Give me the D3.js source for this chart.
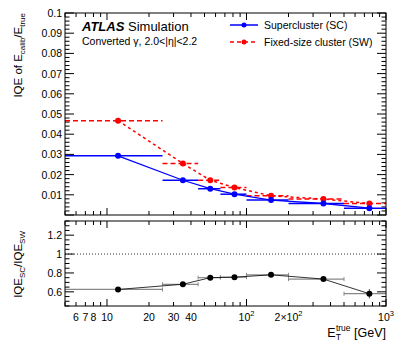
<!DOCTYPE html>
<html>
<head>
  <meta charset="utf-8">
  <title>IQE Supercluster vs Fixed-size</title>
  <script src="https://d3js.org/d3.v7.min.js"></script>
  <style>
    body { margin: 0; background: #fff; }
    text { font-family: "Liberation Sans", Arial, sans-serif; fill: #000; }
  </style>
</head>
<body>
  <script>
    // Bin edges and centres in E_T^true [GeV]
    const binEdges = [5, 25, 45, 65, 100, 200, 500, 1000];
    const binCenters = [12, 35, 55, 82, 150, 356, 760];

    // IQE of E_calib/E_true
    const iqeSC = [0.0293, 0.0172, 0.0130, 0.0103, 0.0074, 0.0057, 0.0034];
    const iqeSW = [0.0467, 0.0255, 0.0172, 0.0136, 0.0095, 0.0079, 0.0057];

    // ratio SC/SW and its vertical error
    const ratio = [0.625, 0.68, 0.75, 0.755, 0.78, 0.735, 0.58];
    const ratioErr = [0.008, 0.01, 0.012, 0.01, 0.01, 0.012, 0.05];

    const xTickLabels = [6, 7, 8, 10, 20, 30, 40, 100, 200, 1000];
    const mainYTicks = [0.01, 0.02, 0.03, 0.04, 0.05, 0.06, 0.07, 0.08, 0.09, 0.1];
    const ratioYTicks = [0.6, 0.8, 1, 1.2];

    const W = 407, H = 344;
    const left = 65, right = 386;
    const mainTop = 13, mainBottom = 215;
    const ratioTop = 221, ratioBottom = 306;

    const svg = d3.select("body").append("svg")
        .attr("width", W).attr("height", H);

    const x = d3.scaleLog().domain([5, 1000]).range([left, right]);
    const y = d3.scaleLinear().domain([0, 0.1]).range([mainBottom, mainTop]);
    const yr = d3.scaleLinear().domain([0.45, 1.35]).range([ratioBottom, ratioTop]);

    const blue = "#0000ff", red = "#ff0000";

    // x minor/major ticks (log)
    const xTicks = [];
    for (let dec = 1; dec <= 1000; dec *= 10) {
      for (let k = 1; k < 10; k++) {
        const v = k * dec;
        if (v >= 5 && v <= 1000) xTicks.push({ v: v, major: k === 1 });
      }
    }

    function drawXTicks(yPos, dir) {
      svg.append("g").selectAll("line")
        .data(xTicks)
        .join("line")
        .attr("x1", d => x(d.v)).attr("x2", d => x(d.v))
        .attr("y1", yPos)
        .attr("y2", d => yPos + dir * (d.major ? 7 : 4))
        .attr("stroke", "#000").attr("stroke-width", 1);
    }

    function drawYTicks(scale, lo, hi, majorStep, minorStep, len) {
      const ticks = [];
      const n = Math.round((hi - lo) / minorStep);
      for (let i = 0; i <= n; i++) {
        const v = lo + i * minorStep;
        const r = v / majorStep;
        ticks.push({ v: v, major: Math.abs(r - Math.round(r)) < 1e-6 });
      }
      const g = svg.append("g");
      [[left, 1], [right, -1]].forEach(([xp, dir]) => {
        g.append("g").selectAll("line")
          .data(ticks)
          .join("line")
          .attr("x1", xp)
          .attr("x2", d => xp + dir * (d.major ? len : len / 2))
          .attr("y1", d => scale(d.v)).attr("y2", d => scale(d.v))
          .attr("stroke", "#000").attr("stroke-width", 1);
      });
    }

    // ---------- main panel ----------
    drawYTicks(y, 0, 0.1, 0.01, 0.002, 9);
    drawXTicks(mainBottom, -1);
    drawXTicks(mainTop, 1);

    svg.append("g").selectAll("text")
      .data(mainYTicks)
      .join("text")
      .attr("x", left - 3)
      .attr("y", d => y(d) + 4)
      .attr("text-anchor", "end")
      .attr("font-size", 10.5)
      .text(d => d3.format("~g")(d));

    const swData = iqeSW.map((v, i) => ({ x: binCenters[i], y: v, lo: binEdges[i], hi: binEdges[i + 1] }));
    const scData = iqeSC.map((v, i) => ({ x: binCenters[i], y: v, lo: binEdges[i], hi: binEdges[i + 1] }));

    const line = d3.line().x(d => x(d.x)).y(d => y(d.y));

    // SW (red dashed)
    svg.append("g").selectAll("line")
      .data(swData)
      .join("line")
      .attr("x1", d => x(d.lo)).attr("x2", d => x(d.hi))
      .attr("y1", d => y(d.y)).attr("y2", d => y(d.y))
      .attr("stroke", red).attr("stroke-width", 1.5)
      .attr("stroke-dasharray", "5,3");

    svg.append("path")
      .datum(swData)
      .attr("d", line)
      .attr("fill", "none")
      .attr("stroke", red).attr("stroke-width", 1.5)
      .attr("stroke-dasharray", "3,3");

    svg.append("g").selectAll("circle")
      .data(swData)
      .join("circle")
      .attr("cx", d => x(d.x)).attr("cy", d => y(d.y))
      .attr("r", 3).attr("fill", red);

    // SC (blue solid)
    svg.append("g").selectAll("line")
      .data(scData)
      .join("line")
      .attr("x1", d => x(d.lo)).attr("x2", d => x(d.hi))
      .attr("y1", d => y(d.y)).attr("y2", d => y(d.y))
      .attr("stroke", blue).attr("stroke-width", 1.5);

    svg.append("path")
      .datum(scData)
      .attr("d", line)
      .attr("fill", "none")
      .attr("stroke", blue).attr("stroke-width", 1.3);

    svg.append("g").selectAll("circle")
      .data(scData)
      .join("circle")
      .attr("cx", d => x(d.x)).attr("cy", d => y(d.y))
      .attr("r", 3).attr("fill", blue);

    svg.append("rect")
      .attr("x", left).attr("y", mainTop)
      .attr("width", right - left).attr("height", mainBottom - mainTop)
      .attr("fill", "none").attr("stroke", "#000");

    // labels
    const atlas = svg.append("text").attr("x", 82).attr("y", 31).attr("font-size", 13);
    atlas.append("tspan").attr("font-weight", "bold").attr("font-style", "italic").text("ATLAS");
    atlas.append("tspan").text(" Simulation");

    svg.append("text").attr("x", 82).attr("y", 45).attr("font-size", 10.5)
      .text("Converted γ, 2.0<|η|<2.2");

    // legend
    const leg = svg.append("g");
    leg.append("line").attr("x1", 230).attr("x2", 258).attr("y1", 25).attr("y2", 25)
      .attr("stroke", blue).attr("stroke-width", 1.5);
    leg.append("circle").attr("cx", 244).attr("cy", 25).attr("r", 2.5).attr("fill", blue);
    leg.append("text").attr("x", 264).attr("y", 29).attr("font-size", 10.5).text("Supercluster (SC)");
    leg.append("line").attr("x1", 230).attr("x2", 258).attr("y1", 42).attr("y2", 42)
      .attr("stroke", red).attr("stroke-width", 1.5).attr("stroke-dasharray", "4,3");
    leg.append("circle").attr("cx", 244).attr("cy", 42).attr("r", 2.5).attr("fill", red);
    leg.append("text").attr("x", 264).attr("y", 46).attr("font-size", 10.5).text("Fixed-size cluster (SW)");

    // y title main
    const yt = svg.append("text")
      .attr("transform", "translate(22,13) rotate(-90)")
      .attr("text-anchor", "end")
      .attr("font-size", 11.5);
    yt.append("tspan").text("IQE of E");
    yt.append("tspan").attr("font-size", 8).attr("dy", 3).text("calib");
    yt.append("tspan").attr("dy", -3).text("/E");
    yt.append("tspan").attr("font-size", 8).attr("dy", 3).text("true");

    // ---------- ratio panel ----------
    drawYTicks(yr, 0.45, 1.35, 0.2, 0.05, 9);
    drawXTicks(ratioBottom, -1);
    drawXTicks(ratioTop, 1);

    svg.append("g").selectAll("text")
      .data(ratioYTicks)
      .join("text")
      .attr("x", left - 3)
      .attr("y", d => yr(d) + 4)
      .attr("text-anchor", "end")
      .attr("font-size", 10.5)
      .text(d => d3.format("~g")(d));

    svg.append("line")
      .attr("x1", left).attr("x2", right)
      .attr("y1", yr(1)).attr("y2", yr(1))
      .attr("stroke", "#000").attr("stroke-width", 0.8)
      .attr("stroke-dasharray", "1,2");

    const rData = ratio.map((v, i) => ({ x: binCenters[i], y: v, e: ratioErr[i], lo: binEdges[i], hi: binEdges[i + 1] }));

    const rg = svg.append("g");
    rg.selectAll(".hbar")
      .data(rData)
      .join("line")
      .attr("x1", d => x(d.lo)).attr("x2", d => x(d.hi))
      .attr("y1", d => yr(d.y)).attr("y2", d => yr(d.y))
      .attr("stroke", "#888").attr("stroke-width", 1.2);
    rg.selectAll(".capl")
      .data(rData.slice(1))
      .join("line")
      .attr("x1", d => x(d.lo)).attr("x2", d => x(d.lo))
      .attr("y1", d => yr(d.y) - 2).attr("y2", d => yr(d.y) + 2)
      .attr("stroke", "#888");
    rg.selectAll(".capr")
      .data(rData.slice(0, -1))
      .join("line")
      .attr("x1", d => x(d.hi)).attr("x2", d => x(d.hi))
      .attr("y1", d => yr(d.y) - 2).attr("y2", d => yr(d.y) + 2)
      .attr("stroke", "#888");
    rg.selectAll(".vbar")
      .data(rData)
      .join("line")
      .attr("x1", d => x(d.x)).attr("x2", d => x(d.x))
      .attr("y1", d => yr(d.y - d.e)).attr("y2", d => yr(d.y + d.e))
      .attr("stroke", "#555");

    svg.append("path")
      .datum(rData)
      .attr("d", d3.line().x(d => x(d.x)).y(d => yr(d.y)))
      .attr("fill", "none").attr("stroke", "#000").attr("stroke-width", 0.8);

    svg.append("g").selectAll("circle")
      .data(rData)
      .join("circle")
      .attr("cx", d => x(d.x)).attr("cy", d => yr(d.y))
      .attr("r", 3).attr("fill", "#000");

    svg.append("rect")
      .attr("x", left).attr("y", ratioTop)
      .attr("width", right - left).attr("height", ratioBottom - ratioTop)
      .attr("fill", "none").attr("stroke", "#000");

    // x tick labels
    const xl = svg.append("g").selectAll("text")
      .data(xTickLabels)
      .join("text")
      .attr("x", d => x(d))
      .attr("y", 321)
      .attr("text-anchor", "middle")
      .attr("font-size", 10.5);
    xl.each(function(d) {
      const t = d3.select(this);
      if (d < 100) { t.text(d); return; }
      const exp = Math.round(Math.log10(d));
      const mant = d / Math.pow(10, exp);
      if (mant !== 1) t.append("tspan").text(mant + "×");
      t.append("tspan").text("10");
      t.append("tspan").attr("font-size", 7.5).attr("dy", -5).text(exp);
    });

    // y title ratio
    const ry = svg.append("text")
      .attr("transform", "translate(22,231) rotate(-90)")
      .attr("text-anchor", "end")
      .attr("font-size", 11.5);
    ry.append("tspan").text("IQE");
    ry.append("tspan").attr("font-size", 8).attr("dy", 3).text("SC");
    ry.append("tspan").attr("dy", -3).text("/IQE");
    ry.append("tspan").attr("font-size", 8).attr("dy", 3).text("SW");

    // x title
    const xt = svg.append("text")
      .attr("x", right).attr("y", 337)
      .attr("text-anchor", "end")
      .attr("font-size", 12.5);
    xt.append("tspan").text("E");
    xt.append("tspan").attr("font-size", 8.5).attr("dy", 3).text("T");
    xt.append("tspan").attr("font-size", 8.5).attr("dx", -5).attr("dy", -9).text("true");
    xt.append("tspan").attr("dy", 6).text(" [GeV]");
  </script>
</body>
</html>
